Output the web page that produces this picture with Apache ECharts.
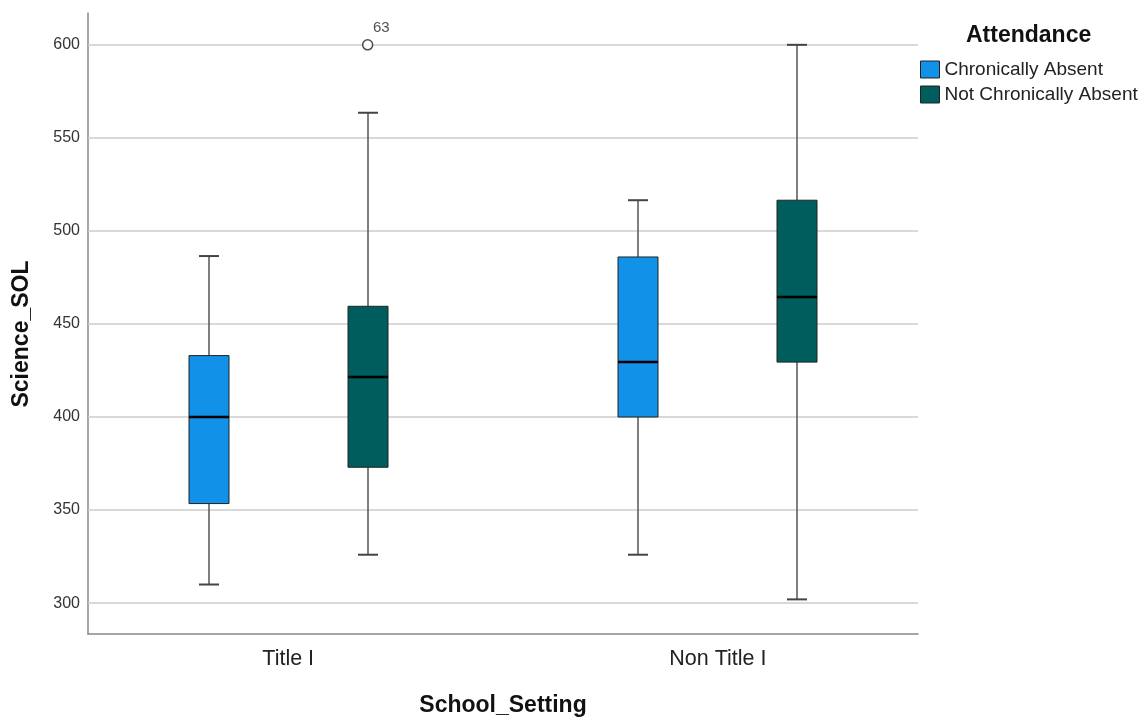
<!DOCTYPE html>
<html>
<head>
    <meta charset="utf-8">
    <title>Science_SOL by School_Setting</title>
    <script src="https://cdn.jsdelivr.net/npm/echarts@6/dist/echarts.min.js"></script>
</head>
<body style="margin:0">
<div id="main" style="width: 1142px;height:722px;"></div>
<script type="text/javascript">
    var settings = ['Title I', 'Non Title I'];
    var groups = ['Chronically Absent', 'Not Chronically Absent'];
    // [min, Q1, median, Q3, max] for each school setting
    var chronicallyAbsent = [
        [310, 353.5, 400, 433, 486.5],
        [326, 400, 429.5, 486, 516.5]
    ];
    var notChronicallyAbsent = [
        [326, 373, 421.5, 459.5, 563.5],
        [302, 429.5, 464.5, 516.5, 600]
    ];
    // outliers: setting index, group index, value, case label
    var outlierSetting = [0];
    var outlierGroup = [1];
    var outlierValue = [600];
    var outlierCase = ['63'];
    var yTicks = [300, 350, 400, 450, 500, 550, 600];

    var font = "'Liberation Sans', Arial, sans-serif";
    var groupOffset = [-0.185, 0.185];   // box position inside a setting
    var colors = ['#1192e8', '#005d5d'];

    function boxData(stats, g) {
        return stats.map(function (s, i) {
            return [i + 1 + groupOffset[g]].concat(s);
        });
    }

    function renderBox(params, api) {
        var x = api.value(0);
        var pMin = api.coord([x, api.value(1)]);
        var pQ1 = api.coord([x, api.value(2)]);
        var pMed = api.coord([x, api.value(3)]);
        var pQ3 = api.coord([x, api.value(4)]);
        var pMax = api.coord([x, api.value(5)]);
        var cx = Math.round(pMed[0]);
        var hw = 20, cw = 10;
        var whisker = {stroke: '#555', lineWidth: 1.5};
        var cap = {stroke: '#444', lineWidth: 2};
        return {
            type: 'group',
            children: [
                {type: 'line', shape: {x1: cx, y1: pMax[1], x2: cx, y2: pQ3[1]}, style: whisker},
                {type: 'line', shape: {x1: cx, y1: pQ1[1], x2: cx, y2: pMin[1]}, style: whisker},
                {type: 'line', shape: {x1: cx - cw, y1: pMax[1], x2: cx + cw, y2: pMax[1]}, style: cap},
                {type: 'line', shape: {x1: cx - cw, y1: pMin[1], x2: cx + cw, y2: pMin[1]}, style: cap},
                {type: 'rect', shape: {x: cx - hw, y: pQ3[1], width: 2 * hw, height: pQ1[1] - pQ3[1]},
                    style: {fill: api.visual('color'), stroke: '#222', lineWidth: 1}},
                {type: 'line', shape: {x1: cx - hw, y1: pMed[1], x2: cx + hw, y2: pMed[1]},
                    style: {stroke: '#000', lineWidth: 2.5}}
            ]
        };
    }

    var outlierData = outlierValue.map(function (v, k) {
        return {
            value: [outlierSetting[k] + 1 + groupOffset[outlierGroup[k]], v],
            label: {formatter: outlierCase[k]}
        };
    });

    var myChart = echarts.init(document.getElementById('main'));
    var option = {
        backgroundColor: '#fff',
        textStyle: {fontFamily: font},
        animation: false,
        title: {
            text: 'Attendance',
            left: 966,
            top: 24,
            padding: 0,
            textStyle: {fontSize: 23, fontWeight: 'bold', color: '#111', fontFamily: font}
        },
        legend: {
            data: groups,
            orient: 'vertical',
            left: 920,
            top: 60,
            padding: 0,
            itemWidth: 19,
            itemHeight: 17,
            itemGap: 6,
            icon: 'rect',
            itemStyle: {borderColor: '#222', borderWidth: 1},
            textStyle: {fontSize: 19, color: '#222', fontFamily: font}
        },
        grid: {left: 88, right: 224, top: 13, bottom: 86},
        xAxis: {
            type: 'value',
            min: 0.534,
            max: 2.466,
            name: 'School_Setting',
            nameLocation: 'middle',
            nameGap: 60,
            nameTextStyle: {fontSize: 23, fontWeight: 'bold', color: '#111', fontFamily: font},
            axisLine: {show: true, onZero: false, lineStyle: {color: '#888', width: 1.5}},
            axisTick: {show: false},
            splitLine: {show: false},
            axisLabel: {
                customValues: [1, 2],
                margin: 14,
                fontSize: 21.5,
                color: '#222',
                formatter: function (v) { return settings[Math.round(v) - 1]; }
            }
        },
        yAxis: {
            type: 'value',
            min: 283.4,
            max: 617.1,
            name: 'Science_SOL',
            nameLocation: 'middle',
            nameGap: 55,
            nameTextStyle: {fontSize: 23, fontWeight: 'bold', color: '#111', fontFamily: font,
                padding: [0, 21, 0, 0]},
            axisLine: {show: true, lineStyle: {color: '#888', width: 1.5}},
            axisTick: {show: false},
            splitLine: {show: false},
            axisLabel: {customValues: yTicks, margin: 8, fontSize: 16, color: '#333'}
        },
        series: [
            {
                name: groups[0],
                type: 'custom',
                z: 3,
                renderItem: renderBox,
                itemStyle: {color: colors[0]},
                encode: {x: 0, y: [1, 2, 3, 4, 5]},
                data: boxData(chronicallyAbsent, 0)
            },
            {
                name: groups[1],
                type: 'custom',
                z: 3,
                renderItem: renderBox,
                itemStyle: {color: colors[1]},
                encode: {x: 0, y: [1, 2, 3, 4, 5]},
                data: boxData(notChronicallyAbsent, 1)
            },
            {
                name: 'Outliers',
                type: 'scatter',
                z: 4,
                symbol: 'circle',
                symbolSize: 10,
                itemStyle: {color: '#fff', borderColor: '#222', borderWidth: 1.5},
                label: {show: true, position: [11, -19], fontSize: 15, color: '#222'},
                data: outlierData,
                markLine: {
                    silent: true,
                    z: 1,
                    symbol: ['none', 'none'],
                    label: {show: false},
                    lineStyle: {color: '#cccccc', width: 1.5, type: 'solid'},
                    data: yTicks.map(function (v) { return {yAxis: v}; })
                }
            }
        ]
    };
    myChart.setOption(option);
</script>
</body>
</html>
